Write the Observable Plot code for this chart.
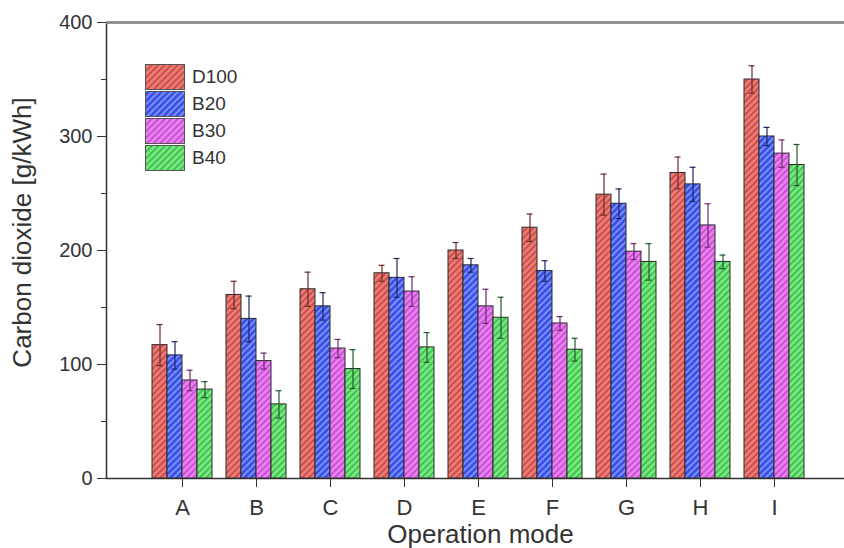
<!DOCTYPE html>
<html><head><meta charset="utf-8">
<script src="https://cdn.jsdelivr.net/npm/d3@7"></script>
<script src="https://cdn.jsdelivr.net/npm/@observablehq/plot@0.6"></script>
<style>
html,body{margin:0;padding:0;background:#fff;overflow:hidden}
#wrap{position:relative;width:844px;height:548px;font-family:"Liberation Sans",Arial,sans-serif}
#wrap > svg{position:absolute;left:0;top:0}
#legend{position:absolute;left:145px;top:63px}
.item{display:flex;align-items:center;height:27px}
.item svg{margin-right:7px;display:block}
.item span{font-size:19px;color:#333}
</style></head><body><div id="wrap"><div id="legend"></div></div>
<script>
const modes = ["A","B","C","D","E","F","G","H","I"];
const fuels = ["D100","B20","B30","B40"];
const d100 = [117,161,166,180,200,220,249,268,350];
const d100Err = [18,12,15,7,7,12,18,14,12];
const b20 = [108,140,151,176,187,182,241,258,300];
const b20Err = [12,20,12,17,6,9,13,15,8];
const b30 = [86,103,114,164,151,136,199,222,285];
const b30Err = [9,7,8,13,15,6,7,19,12];
const b40 = [78,65,96,115,141,113,190,190,275];
const b40Err = [7,12,17,13,18,10,16,6,18];
const yTicks = [0,100,200,300,400];
const yMinor = [50,150,250,350];

const baseColors = {D100:"#ef7b76", B20:"#3b50e2", B30:"#ec80f2", B40:"#76ea7e"};
const stripeColors = {D100:"#c64f4b", B20:"#7a92ff", B30:"#c552d2", B40:"#44bd52"};
const errColors = {D100:"#6b2b2b", B20:"#1b2460", B30:"#6a2a70", B40:"#215a2a"};

const values = [d100,b20,b30,b40];
const errs = [d100Err,b20Err,b30Err,b40Err];
const rows = modes.flatMap((m,i) => fuels.map((f,j) => ({mode:m, fuel:f, value:values[j][i], err:errs[j][i]})));

const W = 844, H = 548;
const margins = {marginLeft: 106, marginRight: 0, marginTop: 22, marginBottom: 70};
const band = {domain: modes, range: [141, 814], paddingInner: 0.18, paddingOuter: 0.1, align: 0.5};
const font = "Liberation Sans, Arial, sans-serif";

// background layer: frame, axes, titles
const back = Plot.plot({
  width: W, height: H, ...margins,
  style: {fontFamily: font, color: "#333", background: "#fff", overflow: "hidden"},
  x: {...band, axis: null},
  y: {domain: [0,400], axis: null},
  marks: [
    Plot.frame({stroke:"#333", strokeWidth:1.5, insetRight:-20}),
    Plot.ruleY([400], {stroke:"#888", strokeWidth:2.5}),
    Plot.axisY({ticks: yTicks, tickSize: 9, tickPadding: 5, fontSize: 20, stroke:"#333", label: null}),
    Plot.axisY({ticks: yMinor, tickSize: 5, tickFormat: () => "", stroke:"#333", label: null}),
    Plot.axisX({anchor:"bottom", tickSize: 9, tickPadding: 12, fontSize: 22, stroke:"#333", label: null}),
    Plot.text(["Carbon dioxide [g/kWh]"], {frameAnchor:"left", textAnchor:"middle", dx:-84, dy:-18, rotate:-90, fontSize:26, fill:"#333"}),
    Plot.text(["Operation mode"], {frameAnchor:"bottom", textAnchor:"middle", dx:5, dy:64, fontSize:26, fill:"#333"})
  ]
});

// foreground layer: grouped bars with error bars
const errMarks = fuels.flatMap(f => {
  const sub = rows.filter(d => d.fuel === f);
  const opts = {fx:"mode", x:"fuel", stroke: errColors[f], strokeWidth: 1.2};
  return [
    Plot.ruleX(sub, {...opts, y1: d => d.value - d.err, y2: d => d.value + d.err}),
    Plot.tickY(sub, {...opts, y: d => d.value + d.err, insetLeft: 4.5, insetRight: 4.5}),
    Plot.tickY(sub, {...opts, y: d => d.value - d.err, insetLeft: 4.5, insetRight: 4.5})
  ];
});

const front = Plot.plot({
  width: W, height: H, ...margins,
  style: {fontFamily: font, background: "transparent", overflow: "hidden"},
  fx: {...band, label: null, axis: null},
  x: {domain: fuels, padding: 0, axis: null},
  y: {domain: [0,400], axis: null},
  color: {domain: fuels, range: fuels.map(f => `url(#hatch-${f})`)},
  marks: [
    Plot.barY(rows, {fx:"mode", x:"fuel", y:"value", fill:"fuel", stroke:"#2a2a2a", strokeWidth:1}),
    ...errMarks
  ]
});

const defs = d3.select(front).insert("defs", ":first-child");
fuels.forEach(f => {
  const p = defs.append("pattern").attr("id", `hatch-${f}`).attr("patternUnits","userSpaceOnUse")
    .attr("width", 4.6).attr("height", 4.6).attr("patternTransform","rotate(45)");
  p.append("rect").attr("width",4.6).attr("height",4.6).attr("fill", baseColors[f]);
  p.append("rect").attr("width",1.9).attr("height",4.6).attr("fill", stripeColors[f]);
});

const wrap = document.getElementById("wrap");
const leg = document.getElementById("legend");
wrap.insertBefore(back, leg);
wrap.insertBefore(front, leg);

const legend = d3.select("#legend");
fuels.forEach(f => {
  const item = legend.append("div").attr("class","item");
  const s = item.append("svg").attr("width",40).attr("height",26);
  s.append("rect").attr("x",0.5).attr("y",0.5).attr("width",39).attr("height",25)
    .attr("fill",`url(#hatch-${f})`).attr("stroke","#555");
  item.append("span").text(f);
});
</script></body></html>
